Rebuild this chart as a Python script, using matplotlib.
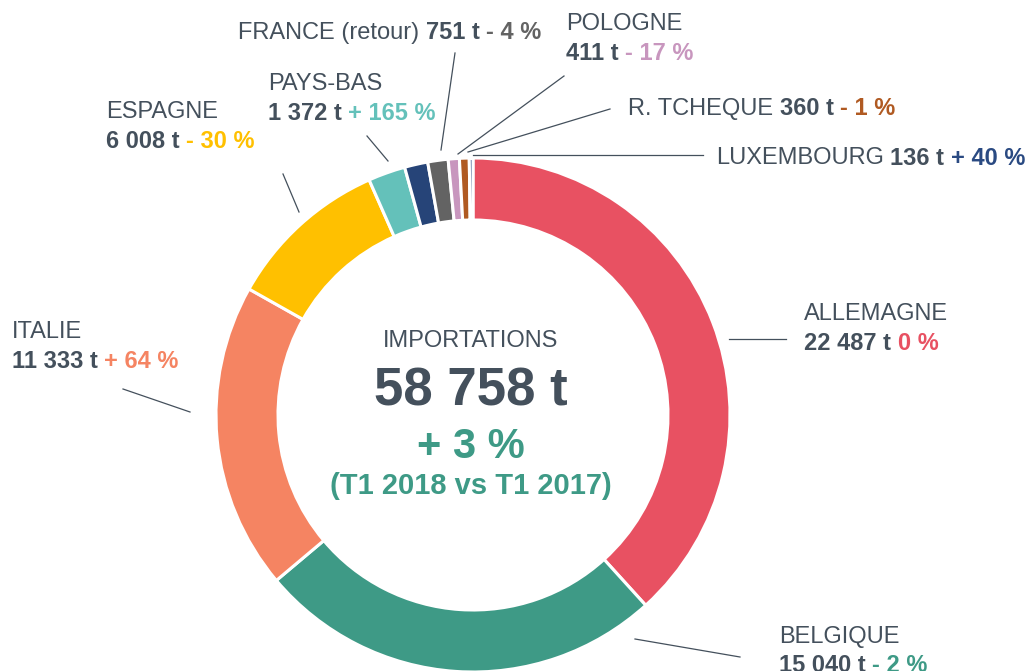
import matplotlib.pyplot as plt

# data
countries = ["ALLEMAGNE", "BELGIQUE", "ITALIE", "ESPAGNE", "PAYS-BAS", "",
             "FRANCE (retour)", "POLOGNE", "R. TCHEQUE", "LUXEMBOURG"]
tonnes = [22487, 15040, 11333, 6008, 1372, 860, 751, 411, 360, 136]
changes = ["0 %", "- 2 %", "+ 64 %", "- 30 %", "+ 165 %", "",
           "- 4 %", "- 17 %", "- 1 %", "+ 40 %"]
colors = ["#E85162", "#3E9A86", "#F58462", "#FFC000", "#64C1BA", "#264478",
          "#636363", "#C896BE", "#B05A22", "#2A4A82"]
total_label = "58 758 t"
total_change = "+ 3 %"
period = "(T1 2018 vs T1 2017)"

DARK = "#44505C"
W, H = 1033, 671
FS = 17

# label layout in pixels (x left, y centre of first line, one or two lines,
# leader line from ring to label)
layout = {
    "ALLEMAGNE": (804, 312, 2, [(729, 339), (786, 339)]),
    "BELGIQUE": (779, 634, 2, [(635, 639), (740, 657)]),
    "ITALIE": (12, 330, 2, [(190, 412), (123, 389)]),
    "ESPAGNE": (106, 110, 2, [(299, 212), (283, 174)]),
    "PAYS-BAS": (268, 82, 2, [(388, 161), (367, 136)]),
    "FRANCE (retour)": (238, 30, 1, [(441, 150), (455, 53)]),
    "POLOGNE": (566, 22, 2, [(458, 154), (564, 76)]),
    "R. TCHEQUE": (628, 106, 1, [(468, 152), (610, 109)]),
    "LUXEMBOURG": (716, 156, 1, [(473, 155), (703, 155)]),
}

fig = plt.figure(figsize=(W / 100, H / 100), dpi=100)
ax = fig.add_axes([0, 0, 1, 1])
plt.rcParams["font.family"] = ["Liberation Sans", "DejaVu Sans"]

cx, cy, r = 473, H - 415, 257
ax.pie(tonnes, colors=colors, startangle=90, counterclock=False,
       center=(cx, cy), radius=r,
       wedgeprops=dict(width=62, edgecolor="white", linewidth=2.2))
ax.set_xlim(0, W)
ax.set_ylim(0, H)
ax.set_aspect("auto")
ax.axis("off")

renderer = fig.canvas.get_renderer()


def put_pieces(x, y, pieces):
    # pieces: list of (text, weight, color); placed one after another
    for txt, weight, col in pieces:
        t = ax.text(x, H - y, txt, fontsize=FS, fontweight=weight, color=col,
                    ha="left", va="center_baseline")
        bb = t.get_window_extent(renderer)
        x = bb.x1 + FS * 0.278 * 100 / 72


for name, val, chg, col in zip(countries, tonnes, changes, colors):
    if name not in layout:
        continue
    x, y, nlines, line = layout[name]
    value = f"{val:,}".replace(",", " ") + " t"
    if nlines == 2:
        put_pieces(x, y, [(name, "normal", DARK)])
        put_pieces(x, y + 29, [(value, "bold", DARK), (chg, "bold", col)])
    else:
        put_pieces(x, y, [(name, "normal", DARK), (value, "bold", DARK),
                          (chg, "bold", col)])
    (x0, y0), (x1, y1) = line
    ax.plot([x0, x1], [H - y0, H - y1], color=DARK, lw=0.9)

# centre text
ax.text(471, H - 347, "IMPORTATIONS", fontsize=FS, color=DARK,
        ha="center", va="baseline")
ax.text(471, H - 405, total_label, fontsize=38, fontweight="bold",
        color=DARK, ha="center", va="baseline")
ax.text(471, H - 458, total_change, fontsize=30, fontweight="bold",
        color="#3E9A86", ha="center", va="baseline")
ax.text(471, H - 494, period, fontsize=21, fontweight="bold",
        color="#3E9A86", ha="center", va="baseline")

fig.savefig("out.png", dpi=100)
